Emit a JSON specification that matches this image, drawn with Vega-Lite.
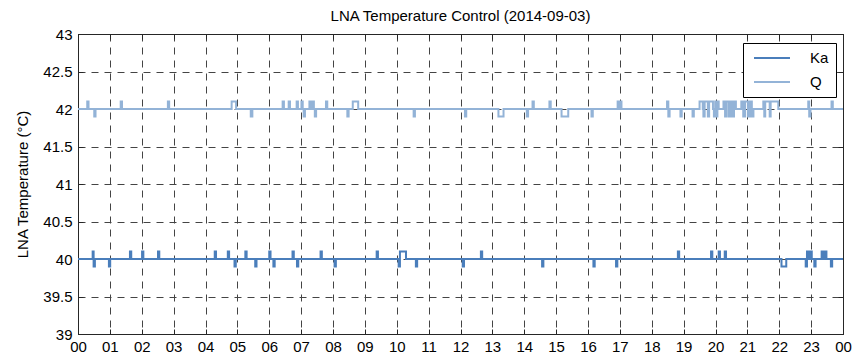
{
  "$schema": "https://vega.github.io/schema/vega-lite/v6.json",
  "width": 765,
  "height": 300,
  "autosize": {"type": "none"},
  "padding": {"left": 78, "top": 34, "right": 9, "bottom": 23},
  "background": "white",
  "title": {
    "text": "LNA Temperature Control (2014-09-03)",
    "font": "Liberation Sans",
    "fontSize": 15,
    "fontWeight": "normal",
    "color": "#000000",
    "offset": 3
  },
  "config": {
    "view": {"stroke": "#262626", "strokeWidth": 1},
    "axis": {
      "domainColor": "#262626",
      "tickColor": "#262626",
      "labelColor": "#000000",
      "labelFont": "Liberation Sans",
      "labelFontSize": 15,
      "titleFont": "Liberation Sans",
      "titleFontSize": 15,
      "titleFontWeight": "normal",
      "titleColor": "#000000",
      "gridColor": "#444444",
      "gridDash": [7, 6],
      "gridWidth": 1,
      "tickSize": -5
    }
  },
  "layer": [
    {
      "data": {
        "values": [
          {"series": "Ka", "hour": 0, "temp": 40},
          {"series": "Ka", "hour": 0.46, "temp": 40.1},
          {"series": "Ka", "hour": 0.49, "temp": 39.9},
          {"series": "Ka", "hour": 0.53, "temp": 40},
          {"series": "Ka", "hour": 0.97, "temp": 39.9},
          {"series": "Ka", "hour": 1.01, "temp": 40},
          {"series": "Ka", "hour": 1.63, "temp": 40.1},
          {"series": "Ka", "hour": 1.67, "temp": 40},
          {"series": "Ka", "hour": 2.01, "temp": 40.1},
          {"series": "Ka", "hour": 2.05, "temp": 40},
          {"series": "Ka", "hour": 2.51, "temp": 40.1},
          {"series": "Ka", "hour": 2.55, "temp": 40},
          {"series": "Ka", "hour": 4.29, "temp": 40.1},
          {"series": "Ka", "hour": 4.33, "temp": 40},
          {"series": "Ka", "hour": 4.70, "temp": 40.1},
          {"series": "Ka", "hour": 4.74, "temp": 40},
          {"series": "Ka", "hour": 4.91, "temp": 39.9},
          {"series": "Ka", "hour": 4.95, "temp": 40},
          {"series": "Ka", "hour": 5.25, "temp": 40.1},
          {"series": "Ka", "hour": 5.29, "temp": 40},
          {"series": "Ka", "hour": 5.56, "temp": 39.9},
          {"series": "Ka", "hour": 5.60, "temp": 40},
          {"series": "Ka", "hour": 6.00, "temp": 40.1},
          {"series": "Ka", "hour": 6.04, "temp": 40},
          {"series": "Ka", "hour": 6.13, "temp": 39.9},
          {"series": "Ka", "hour": 6.17, "temp": 40},
          {"series": "Ka", "hour": 6.73, "temp": 40.1},
          {"series": "Ka", "hour": 6.77, "temp": 40},
          {"series": "Ka", "hour": 6.87, "temp": 39.9},
          {"series": "Ka", "hour": 6.91, "temp": 40},
          {"series": "Ka", "hour": 7.61, "temp": 40.1},
          {"series": "Ka", "hour": 7.65, "temp": 40},
          {"series": "Ka", "hour": 8.05, "temp": 39.9},
          {"series": "Ka", "hour": 8.09, "temp": 40},
          {"series": "Ka", "hour": 9.37, "temp": 40.1},
          {"series": "Ka", "hour": 9.41, "temp": 40},
          {"series": "Ka", "hour": 10.06, "temp": 39.9},
          {"series": "Ka", "hour": 10.10, "temp": 40.1},
          {"series": "Ka", "hour": 10.29, "temp": 40},
          {"series": "Ka", "hour": 10.60, "temp": 39.9},
          {"series": "Ka", "hour": 10.64, "temp": 40},
          {"series": "Ka", "hour": 12.07, "temp": 39.9},
          {"series": "Ka", "hour": 12.11, "temp": 40},
          {"series": "Ka", "hour": 12.64, "temp": 40.1},
          {"series": "Ka", "hour": 12.68, "temp": 40},
          {"series": "Ka", "hour": 14.56, "temp": 39.9},
          {"series": "Ka", "hour": 14.60, "temp": 40},
          {"series": "Ka", "hour": 16.17, "temp": 39.9},
          {"series": "Ka", "hour": 16.21, "temp": 40},
          {"series": "Ka", "hour": 16.88, "temp": 39.9},
          {"series": "Ka", "hour": 16.92, "temp": 40},
          {"series": "Ka", "hour": 18.82, "temp": 40.1},
          {"series": "Ka", "hour": 18.86, "temp": 40},
          {"series": "Ka", "hour": 19.86, "temp": 40.1},
          {"series": "Ka", "hour": 19.90, "temp": 40},
          {"series": "Ka", "hour": 20.10, "temp": 40.1},
          {"series": "Ka", "hour": 20.14, "temp": 40},
          {"series": "Ka", "hour": 20.29, "temp": 40.1},
          {"series": "Ka", "hour": 20.33, "temp": 40},
          {"series": "Ka", "hour": 22.07, "temp": 39.9},
          {"series": "Ka", "hour": 22.22, "temp": 40},
          {"series": "Ka", "hour": 22.83, "temp": 39.9},
          {"series": "Ka", "hour": 22.87, "temp": 40.1},
          {"series": "Ka", "hour": 22.93, "temp": 40},
          {"series": "Ka", "hour": 22.96, "temp": 40.1},
          {"series": "Ka", "hour": 23.02, "temp": 40},
          {"series": "Ka", "hour": 23.10, "temp": 39.9},
          {"series": "Ka", "hour": 23.14, "temp": 40},
          {"series": "Ka", "hour": 23.33, "temp": 40.1},
          {"series": "Ka", "hour": 23.38, "temp": 40},
          {"series": "Ka", "hour": 23.42, "temp": 40.1},
          {"series": "Ka", "hour": 23.48, "temp": 40},
          {"series": "Ka", "hour": 23.62, "temp": 39.9},
          {"series": "Ka", "hour": 23.66, "temp": 40},
          {"series": "Ka", "hour": 24, "temp": 40}
        ]
      },
      "mark": {"type": "line", "interpolate": "step-after", "strokeWidth": 2},
      "encoding": {
        "x": {
          "field": "hour",
          "type": "quantitative",
          "scale": {"domain": [0, 24], "nice": false, "zero": false},
          "axis": {
            "title": null,
            "values": [0, 1, 2, 3, 4, 5, 6, 7, 8, 9, 10, 11, 12, 13, 14, 15, 16, 17, 18, 19, 20, 21, 22, 23, 24],
            "labelExpr": "pad('' + (datum.value % 24), 2, '0', 'left')",
            "labelPadding": 10,
            "labelFlush": false,
            "labelOverlap": false,
            "grid": true
          }
        },
        "y": {
          "field": "temp",
          "type": "quantitative",
          "scale": {"domain": [39, 43], "nice": false, "zero": false},
          "axis": {
            "title": "LNA Temperature (°C)",
            "titlePadding": 12,
            "values": [39, 39.5, 40, 40.5, 41, 41.5, 42, 42.5, 43],
            "format": "~g",
            "labelPadding": 11,
            "labelFlush": false,
            "labelOverlap": false,
            "grid": true
          }
        },
        "color": {
          "field": "series",
          "type": "nominal",
          "scale": {"domain": ["Ka", "Q"], "range": ["#4a7ebb", "#93b3d7"]},
          "legend": {
            "title": null,
            "orient": "none",
            "legendX": 665,
            "legendY": 9,
            "strokeColor": "#000000",
            "fillColor": "#ffffff",
            "padding": 7,
            "cornerRadius": 0,
            "symbolType": "M-0.57,0H4.57",
            "symbolSize": 196,
            "symbolStrokeWidth": 2,
            "labelFont": "Liberation Sans",
            "labelFontSize": 15,
            "labelColor": "#000000",
            "labelOffset": 44,
            "rowPadding": 8
          }
        }
      }
    },
    {
      "data": {
        "values": [
          {"series": "Q", "hour": 0, "temp": 42},
          {"series": "Q", "hour": 0.29, "temp": 42.1},
          {"series": "Q", "hour": 0.33, "temp": 42},
          {"series": "Q", "hour": 0.51, "temp": 41.9},
          {"series": "Q", "hour": 0.55, "temp": 42},
          {"series": "Q", "hour": 1.34, "temp": 42.1},
          {"series": "Q", "hour": 1.38, "temp": 42},
          {"series": "Q", "hour": 2.82, "temp": 42.1},
          {"series": "Q", "hour": 2.86, "temp": 42},
          {"series": "Q", "hour": 4.82, "temp": 42.1},
          {"series": "Q", "hour": 4.96, "temp": 42},
          {"series": "Q", "hour": 5.42, "temp": 41.9},
          {"series": "Q", "hour": 5.47, "temp": 42},
          {"series": "Q", "hour": 6.42, "temp": 42.1},
          {"series": "Q", "hour": 6.46, "temp": 42},
          {"series": "Q", "hour": 6.61, "temp": 42.1},
          {"series": "Q", "hour": 6.65, "temp": 42},
          {"series": "Q", "hour": 6.86, "temp": 42.1},
          {"series": "Q", "hour": 6.90, "temp": 42},
          {"series": "Q", "hour": 7.01, "temp": 42.1},
          {"series": "Q", "hour": 7.05, "temp": 42},
          {"series": "Q", "hour": 7.08, "temp": 41.9},
          {"series": "Q", "hour": 7.12, "temp": 42},
          {"series": "Q", "hour": 7.26, "temp": 42.1},
          {"series": "Q", "hour": 7.30, "temp": 42},
          {"series": "Q", "hour": 7.36, "temp": 42.1},
          {"series": "Q", "hour": 7.40, "temp": 42},
          {"series": "Q", "hour": 7.43, "temp": 41.9},
          {"series": "Q", "hour": 7.47, "temp": 42},
          {"series": "Q", "hour": 7.78, "temp": 42.1},
          {"series": "Q", "hour": 7.82, "temp": 42},
          {"series": "Q", "hour": 8.45, "temp": 41.9},
          {"series": "Q", "hour": 8.49, "temp": 42},
          {"series": "Q", "hour": 8.62, "temp": 42.1},
          {"series": "Q", "hour": 8.79, "temp": 42},
          {"series": "Q", "hour": 10.53, "temp": 41.9},
          {"series": "Q", "hour": 10.57, "temp": 42},
          {"series": "Q", "hour": 12.14, "temp": 41.9},
          {"series": "Q", "hour": 12.18, "temp": 42},
          {"series": "Q", "hour": 13.19, "temp": 41.9},
          {"series": "Q", "hour": 13.35, "temp": 42},
          {"series": "Q", "hour": 14.08, "temp": 41.9},
          {"series": "Q", "hour": 14.12, "temp": 42},
          {"series": "Q", "hour": 14.26, "temp": 42.1},
          {"series": "Q", "hour": 14.30, "temp": 42},
          {"series": "Q", "hour": 14.79, "temp": 42.1},
          {"series": "Q", "hour": 14.83, "temp": 42},
          {"series": "Q", "hour": 15.17, "temp": 41.9},
          {"series": "Q", "hour": 15.38, "temp": 42},
          {"series": "Q", "hour": 16.11, "temp": 41.9},
          {"series": "Q", "hour": 16.15, "temp": 42},
          {"series": "Q", "hour": 16.93, "temp": 42.1},
          {"series": "Q", "hour": 16.97, "temp": 42},
          {"series": "Q", "hour": 17.01, "temp": 42.1},
          {"series": "Q", "hour": 17.05, "temp": 42},
          {"series": "Q", "hour": 18.48, "temp": 42.1},
          {"series": "Q", "hour": 18.52, "temp": 41.9},
          {"series": "Q", "hour": 18.56, "temp": 42},
          {"series": "Q", "hour": 18.90, "temp": 41.9},
          {"series": "Q", "hour": 18.94, "temp": 42},
          {"series": "Q", "hour": 19.28, "temp": 41.9},
          {"series": "Q", "hour": 19.32, "temp": 42},
          {"series": "Q", "hour": 19.50, "temp": 42.1},
          {"series": "Q", "hour": 19.60, "temp": 42},
          {"series": "Q", "hour": 19.62, "temp": 41.9},
          {"series": "Q", "hour": 19.66, "temp": 42.1},
          {"series": "Q", "hour": 19.76, "temp": 41.9},
          {"series": "Q", "hour": 19.80, "temp": 42.1},
          {"series": "Q", "hour": 19.92, "temp": 42},
          {"series": "Q", "hour": 19.95, "temp": 41.9},
          {"series": "Q", "hour": 19.99, "temp": 42.1},
          {"series": "Q", "hour": 20.03, "temp": 41.9},
          {"series": "Q", "hour": 20.06, "temp": 42.1},
          {"series": "Q", "hour": 20.10, "temp": 42},
          {"series": "Q", "hour": 20.25, "temp": 42.1},
          {"series": "Q", "hour": 20.30, "temp": 41.9},
          {"series": "Q", "hour": 20.35, "temp": 42.1},
          {"series": "Q", "hour": 20.42, "temp": 41.9},
          {"series": "Q", "hour": 20.47, "temp": 42.1},
          {"series": "Q", "hour": 20.53, "temp": 41.9},
          {"series": "Q", "hour": 20.58, "temp": 42.1},
          {"series": "Q", "hour": 20.64, "temp": 42},
          {"series": "Q", "hour": 20.81, "temp": 42.1},
          {"series": "Q", "hour": 20.87, "temp": 41.9},
          {"series": "Q", "hour": 20.93, "temp": 42.1},
          {"series": "Q", "hour": 21.02, "temp": 41.9},
          {"series": "Q", "hour": 21.08, "temp": 42.1},
          {"series": "Q", "hour": 21.14, "temp": 41.9},
          {"series": "Q", "hour": 21.19, "temp": 42},
          {"series": "Q", "hour": 21.50, "temp": 42.1},
          {"series": "Q", "hour": 21.53, "temp": 41.9},
          {"series": "Q", "hour": 21.56, "temp": 42.1},
          {"series": "Q", "hour": 21.70, "temp": 41.9},
          {"series": "Q", "hour": 21.73, "temp": 42.1},
          {"series": "Q", "hour": 21.97, "temp": 42},
          {"series": "Q", "hour": 22.91, "temp": 42.1},
          {"series": "Q", "hour": 22.94, "temp": 41.9},
          {"series": "Q", "hour": 22.98, "temp": 42},
          {"series": "Q", "hour": 23.64, "temp": 42.1},
          {"series": "Q", "hour": 23.68, "temp": 42},
          {"series": "Q", "hour": 24, "temp": 42}
        ]
      },
      "mark": {"type": "line", "interpolate": "step-after", "strokeWidth": 2},
      "encoding": {
        "x": {
          "field": "hour",
          "type": "quantitative",
          "axis": {
            "orient": "top",
            "title": null,
            "values": [0, 1, 2, 3, 4, 5, 6, 7, 8, 9, 10, 11, 12, 13, 14, 15, 16, 17, 18, 19, 20, 21, 22, 23, 24],
            "labels": false,
            "grid": false
          }
        },
        "y": {
          "field": "temp",
          "type": "quantitative",
          "axis": {
            "orient": "right",
            "title": null,
            "values": [39, 39.5, 40, 40.5, 41, 41.5, 42, 42.5, 43],
            "labels": false,
            "grid": false
          }
        },
        "color": {"field": "series", "type": "nominal"}
      }
    }
  ],
  "resolve": {"axis": {"x": "independent", "y": "independent"}}
}
